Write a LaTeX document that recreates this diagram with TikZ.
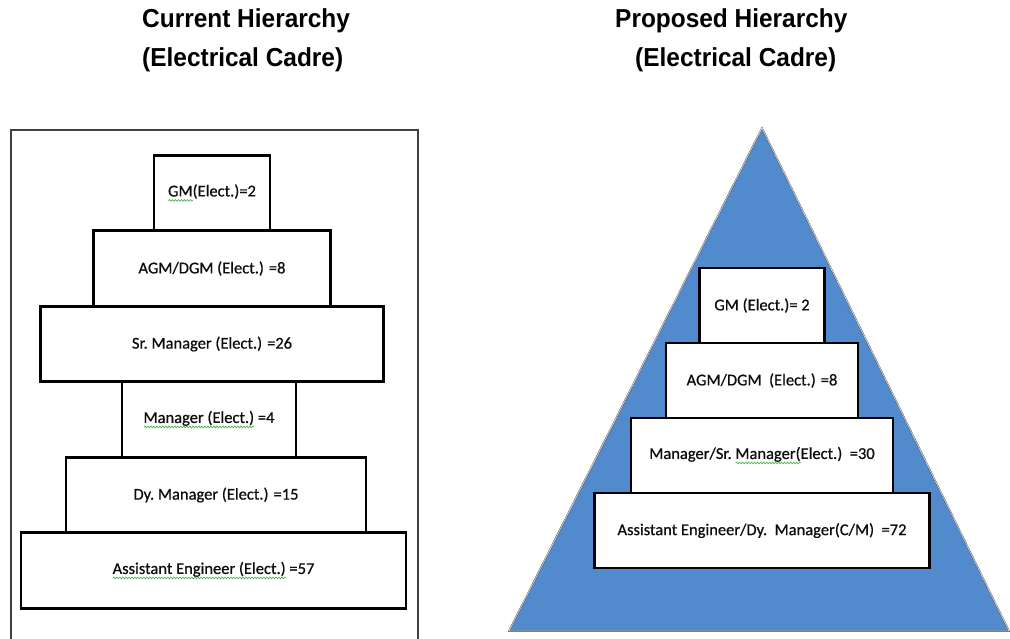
\documentclass[tikz,border=0pt]{standalone}
\usepackage{fontspec}
\usetikzlibrary{positioning,decorations.pathmorphing}
\newfontfamily\titlefont[FakeStretch=0.94]{Liberation Sans}
\newfontfamily\boxfont[FakeBold=0.7]{Carlito}
\definecolor{pyramidblue}{RGB}{82,138,206}
\definecolor{squiggreen}{RGB}{70,170,70}
\tikzset{level/.style={draw=black,line width=2.8pt,fill=white,outer sep=0pt,inner sep=0pt,
                       minimum height=75.5pt,text=black!95,font=\boxfont\fontsize{16.5}{19}\selectfont},
         heading/.style={inner sep=0pt,anchor=base west,font=\titlefont\bfseries\fontsize{26}{30}\selectfont},
         pyramid/.style={fill=pyramidblue,draw=black!70,double=white!75!pyramidblue,double distance=0.7pt},
         squiggle/.style={draw=squiggreen,line width=0.6pt,decorate,
                          decoration={snake,amplitude=0.9pt,segment length=3pt}}}
\newsavebox\squigbox
\newcommand\squig[1]{\sbox\squigbox{#1}\rlap{\tikz[baseline=0pt]\draw[squiggle] (0pt,-4pt) -- (\wd\squigbox,-4pt);}\usebox\squigbox}

\begin{document}
\begin{tikzpicture}[x=1pt,y=-1pt]
	\useasboundingbox (0,0) rectangle (1010,639);

	% titles
	\node[heading] (curtitle) at (142,28) {Current Hierarchy};
	\node[heading] (curcadre) at (142,67) {(Electrical Cadre)};
	\node[heading] (proptitle) at (615,28) {Proposed Hierarchy};
	\node[heading] (propcadre) at (635,67) {(Electrical Cadre)};

	% current hierarchy
	\draw[line width=1.2pt,black!75] (11,639) -- (11,130) -- (418,130) -- (418,639);
	\node[level,minimum width=116pt] (gmold) at (212,193) {\squig{GM}(Elect.)=2};
	\node[level,minimum width=237pt,below=0pt of gmold] (agmold) {AGM/DGM (Elect.) =8};
	\node[level,minimum width=343pt,below=0pt of agmold] (srmgrold) {Sr.\ Manager (Elect.) =26};
	\node[level,minimum width=174pt,below=0pt of srmgrold,xshift=-3pt] (mgrold) {\squig{Manager (Elect.)} =4};
	\node[level,minimum width=300pt,below=0pt of mgrold,xshift=7pt] (dymgrold) {Dy.\ Manager (Elect.) =15};
	\node[level,minimum width=385pt,below=0pt of dymgrold,xshift=-2.5pt] (aeold) {\squig{Assistant Engineer (Elect.)} =57};

	% proposed hierarchy
	\coordinate (apex) at (762,128);
	\coordinate (baseleft) at (509,631);
	\coordinate (baseright) at (1009,631);
	\draw[pyramid] (apex) -- (baseright) -- (baseleft) -- cycle;
	\node[level,line width=2.5pt,minimum width=125pt,minimum height=75pt] (gmnew) at (762,305.5) {GM (Elect.)=\ 2};
	\node[level,line width=2.5pt,minimum width=192pt,minimum height=75pt,below=0pt of gmnew] (agmnew) {AGM/DGM\ \ (Elect.) =8};
	\node[level,line width=2.5pt,minimum width=262pt,minimum height=75pt,below=0pt of agmnew] (mgrnew) {Manager/Sr.\ \squig{Manager(}Elect.)\ \ =30};
	\node[level,line width=2.5pt,minimum width=335pt,minimum height=75pt,below=0pt of mgrnew] (aenew) {Assistant Engineer/Dy.\ \ Manager(C/M)\ \ =72};
\end{tikzpicture}
\end{document}
